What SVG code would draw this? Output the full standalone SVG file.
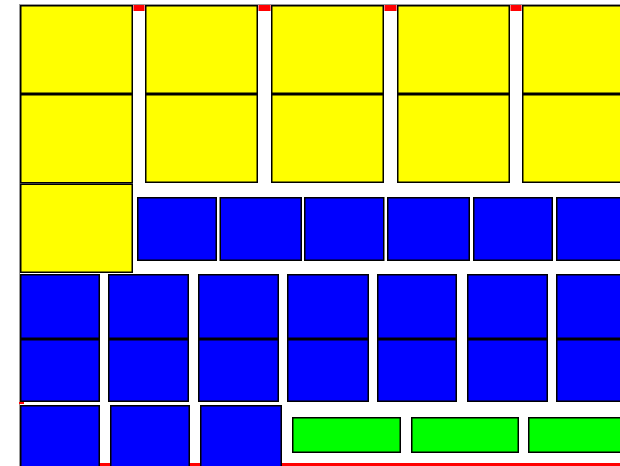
<svg xmlns="http://www.w3.org/2000/svg" width="620" height="466" viewBox="0 0 620 466">
<style>
.y{fill:#ffff00;stroke:#000;stroke-width:1.5}
.b{fill:#0000ff;stroke:#000;stroke-width:1.5}
.g{fill:#00ff00;stroke:#000;stroke-width:1.5}
.r{fill:#ff0000}
.frame{stroke:#999;stroke-width:1;fill:none}
</style>
<rect width="620" height="466" fill="#fff"/>
<g id="frame">
<line class="frame" x1="19.5" y1="4" x2="19.5" y2="466"/>
<line class="frame" x1="19" y1="4.5" x2="620" y2="4.5"/>
</g>
<g id="red-bits">
<rect class="r" x="133.5" y="5" width="11" height="6"/>
<rect class="r" x="258.5" y="5" width="12" height="6"/>
<rect class="r" x="384.5" y="5" width="12" height="6"/>
<rect class="r" x="510.5" y="5" width="11" height="6"/>
<rect class="r" x="19" y="402" width="5" height="2"/>
<rect class="r" x="100" y="463" width="10" height="3"/>
<rect class="r" x="190" y="463" width="10" height="3"/>
<rect class="r" x="282" y="463" width="338" height="3"/>
</g>
<g id="yellow-col1">
<rect class="y" x="20.75" y="5.75" width="111.5" height="87.5"/>
<rect class="y" x="20.75" y="94.75" width="111.5" height="88"/>
<rect class="y" x="20.75" y="184.25" width="111.5" height="88"/>
</g>
<g id="yellow-col2">
<rect class="y" x="145.75" y="5.75" width="111.5" height="87.5"/>
<rect class="y" x="145.75" y="94.75" width="111.5" height="87.5"/>
</g>
<g id="yellow-col3">
<rect class="y" x="271.75" y="5.75" width="111.5" height="87.5"/>
<rect class="y" x="271.75" y="94.75" width="111.5" height="87.5"/>
</g>
<g id="yellow-col4">
<rect class="y" x="397.75" y="5.75" width="111.5" height="87.5"/>
<rect class="y" x="397.75" y="94.75" width="111.5" height="87.5"/>
</g>
<g id="yellow-col5">
<rect class="y" x="522.75" y="5.75" width="111.5" height="87.5"/>
<rect class="y" x="522.75" y="94.75" width="111.5" height="87.5"/>
</g>
<g id="blue-rowA">
<rect class="b" x="137.75" y="197.75" width="78.5" height="62.5"/>
<rect class="b" x="220.25" y="197.75" width="81" height="62.5"/>
<rect class="b" x="304.75" y="197.75" width="79" height="62.5"/>
<rect class="b" x="387.75" y="197.75" width="81.5" height="62.5"/>
<rect class="b" x="473.75" y="197.75" width="78.5" height="62.5"/>
<rect class="b" x="556.75" y="197.75" width="80" height="62.5"/>
</g>
<g id="blue-rowB1"><rect class="b" x="20.75" y="274.75" width="78.5" height="63.5"/><rect class="b" x="20.75" y="339.75" width="78.5" height="61.5"/></g>
<g id="blue-rowB2"><rect class="b" x="108.75" y="274.75" width="79.5" height="63.5"/><rect class="b" x="108.75" y="339.75" width="79.5" height="61.5"/></g>
<g id="blue-rowB3"><rect class="b" x="198.75" y="274.75" width="79.5" height="63.5"/><rect class="b" x="198.75" y="339.75" width="79.5" height="61.5"/></g>
<g id="blue-rowB4"><rect class="b" x="287.75" y="274.75" width="80.5" height="63.5"/><rect class="b" x="287.75" y="339.75" width="80.5" height="61.5"/></g>
<g id="blue-rowB5"><rect class="b" x="377.75" y="274.75" width="78.5" height="63.5"/><rect class="b" x="377.75" y="339.75" width="78.5" height="61.5"/></g>
<g id="blue-rowB6"><rect class="b" x="467.75" y="274.75" width="79.5" height="63.5"/><rect class="b" x="467.75" y="339.75" width="79.5" height="61.5"/></g>
<g id="blue-rowB7"><rect class="b" x="556.75" y="274.75" width="79.5" height="63.5"/><rect class="b" x="556.75" y="339.75" width="79.5" height="61.5"/></g>
<g id="blue-rowC">
<rect class="b" x="20.75" y="405.75" width="78.5" height="70"/>
<rect class="b" x="110.75" y="405.75" width="78.5" height="70"/>
<rect class="b" x="200.75" y="405.75" width="80.5" height="70"/>
</g>
<g id="green-row">
<rect class="g" x="292.75" y="417.75" width="107.5" height="34.5"/>
<rect class="g" x="411.75" y="417.75" width="106.5" height="34.5"/>
<rect class="g" x="528.75" y="417.75" width="110" height="34.5"/>
</g>
</svg>
